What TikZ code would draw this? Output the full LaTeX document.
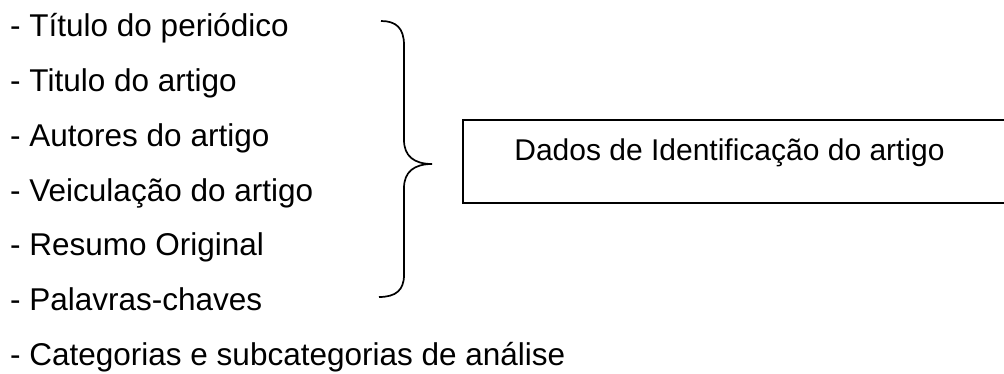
\documentclass[tikz,border=0pt]{standalone}
\usepackage{fontspec}
\setmainfont{Liberation Sans}
\begin{document}
\begin{tikzpicture}[x=1pt,y=-1pt,
  item/.style={anchor=base west, inner sep=0pt, font=\fontsize{31.5}{36}\selectfont},
  boxtext/.style={anchor=base, inner sep=0pt, font=\fontsize{30}{36}\selectfont},
  frame/.style={draw, line width=1.8pt, inner sep=0pt, anchor=north west},
  brace/.style={draw, line width=1.7pt}]
\useasboundingbox (0,0) rectangle (1004,374);
\node[item] (i1) at (10,37) {- Título do periódico};
\node[item] (i2) at (10,91.7) {- Titulo do artigo};
\node[item] (i3) at (10,146.4) {- Autores do artigo};
\node[item] (i4) at (10,201.1) {- Veiculação do artigo};
\node[item] (i5) at (10,255.8) {- Resumo Original};
\node[item] (i6) at (10,310.5) {- Palavras-chaves};
\node[item] (i7) at (10,365.2) {- Categorias e subcategorias de análise};
\path[brace] (381,21) .. controls (396,21) and (404,28) .. (404,45)
  -- (404,140) .. controls (404,156) and (414,164) .. (432,164)
  .. controls (414,164) and (404,172) .. (404,188)
  -- (404,275) .. controls (404,290) and (396,297) .. (379,297);
\node[frame, minimum width=546pt, minimum height=83pt] (box) at (462,119) {};
\node[boxtext] (lbl) at (729.5,160.5) {Dados de Identificação do artigo};
\end{tikzpicture}
\end{document}
